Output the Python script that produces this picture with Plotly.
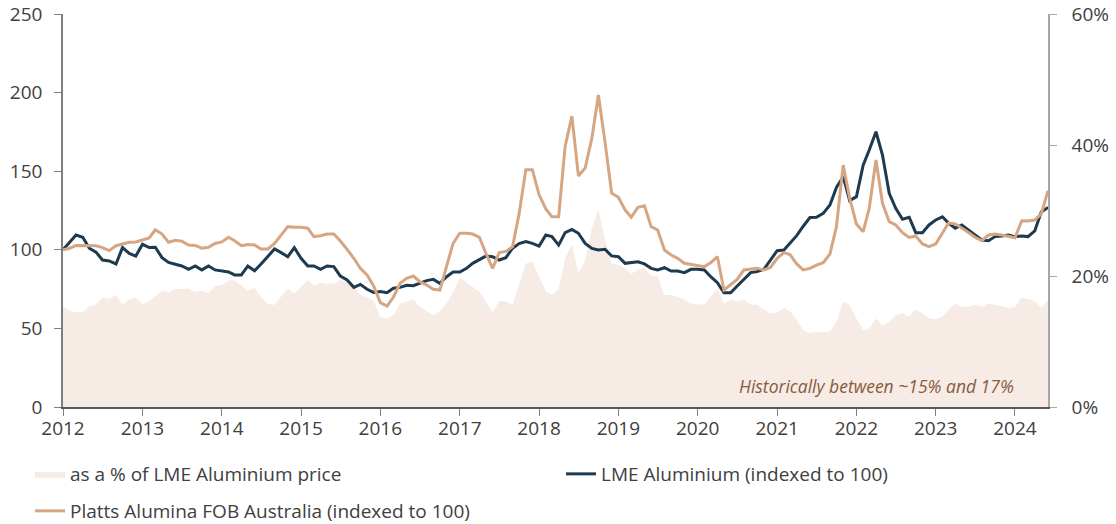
import pandas as pd
import plotly.graph_objects as go

dates = pd.date_range("2012-01-01", periods=150, freq="MS")

lme = [100, 105, 109.4, 108, 101, 98.5, 93.5, 92.9, 91, 101.4,
       97.7, 96, 103.5, 101.4, 101.6, 95, 92, 90.8, 89.7, 87.6,
       89.7, 87.2, 89.7, 87.2, 86.7, 85.9, 84, 84, 89.7, 86.7,
       91, 96, 100.5, 98.2, 95.6, 101.4, 94.6, 89.7, 89.7, 87.6,
       89.7, 89.3, 83.3, 80.8, 76.1, 78, 74.9, 72.9, 73.4, 72.7,
       75.5, 76.1, 77.4, 77.2, 78.7, 80.4, 81.2, 78.7, 82.9, 85.9,
       85.9, 88.2, 91.4, 94, 96, 95.6, 93.5, 95, 101, 104,
       105.2, 104.1, 102.4, 109.4, 108.4, 103, 110.9, 113, 110.5, 104.1,
       100.9, 99.9, 100.3, 96.1, 95.6, 91.4, 92, 92.4, 91, 88.2,
       87.2, 88.6, 86.5, 86.5, 85.5, 87.6, 87.6, 87.2, 82.9, 79.1,
       72.7, 72.7, 77, 81.2, 85.5, 86.1, 87.6, 93.5, 99.4, 99.9,
       104.1, 109, 115, 120.5, 120.7, 123.2, 128.5, 139.7, 146.5, 131.3,
       133.8, 153.9, 163.5, 175.1, 160.3, 135.9, 126.4, 119.4, 120.7, 110.9,
       110.9, 115.8, 119, 121, 117, 113.7, 115.8, 112.6, 109.4, 106.2,
       105.8, 108.4, 108.8, 109.4, 108.4, 108.8, 108.4, 112, 124, 127]

platts = [100, 101, 102.8, 102.6, 102.6, 102.6, 101.4, 99.5, 102.6, 103.9,
          104.8, 105, 106.4, 107.6, 112.7, 110, 104.8, 106, 105.4, 103,
          102.8, 101, 101.6, 104, 105, 108, 105.8, 102.6, 103.4, 103,
          100.5, 100.5, 104, 109, 114.7, 114.3, 114.3, 113.7, 108.4, 109,
          110, 110, 105.6, 100.3, 94.6, 88.2, 84, 77, 66.4, 64.2,
          69.8, 78.7, 81.8, 83.3, 79.7, 77.6, 74.9, 74.4, 90.3, 104.1,
          110.5, 110.5, 110, 107.9, 97.8, 88.2, 98.2, 99, 102, 123,
          151, 151, 135, 126, 121, 121, 166, 185, 147, 152,
          171, 198.5, 168, 136, 133.4, 125.3, 120.7, 127, 128, 114.7,
          112.6, 99.9, 96.7, 94.6, 91.4, 90.8, 90.3, 89.3, 91.8, 95.6,
          74.4, 77.6, 81.2, 87.2, 87.6, 88.2, 87.2, 88.8, 94.6, 98.2,
          97, 91, 87.2, 88.2, 90.3, 91.8, 97.3, 114.7, 153.9, 132.7,
          116.4, 111.5, 126.4, 157.1, 129.6, 117.9, 115.8, 110.9, 107.9, 108.8,
          103.7, 102, 103.7, 111, 117, 116.5, 114, 111, 108, 105.8,
          109.4, 110, 109.4, 108.4, 107.7, 118.5, 118.3, 118.9, 122.8, 137.6]

pct = [15.3, 14.7, 14.45, 14.45, 15.4, 15.7, 16.7, 16.5, 17.1, 15.6,
       16.4, 16.7, 15.7, 16.2, 16.9, 17.7, 17.5, 18, 18, 18.1,
       17.6, 17.7, 17.4, 18.5, 18.6, 19.3, 19.3, 18.6, 17.7, 18.2,
       16.8, 15.7, 15.6, 16.8, 18.1, 17.3, 18.4, 19.4, 18.5, 19,
       18.8, 18.8, 19.4, 19.1, 18.5, 17.1, 16.8, 16.2, 13.7, 13.5,
       14, 15.8, 16.1, 16.4, 15.3, 14.7, 14, 14.6, 15.8, 17.6,
       19.7, 19, 18.3, 17.6, 16.1, 14.4, 16.2, 16.1, 15.6, 18.8,
       21.9, 22.2, 20, 17.6, 17.1, 18, 22.7, 24.9, 20.4, 22.4,
       27.3, 30.2, 25.5, 21.9, 21.7, 21.2, 20.3, 21, 21.3, 20,
       20, 17.1, 17.1, 16.7, 16.4, 15.8, 15.7, 15.6, 16.8, 18.1,
       15.8, 16.4, 16.1, 16.4, 15.6, 15.6, 14.9, 14.3, 14.4, 15.1,
       14.6, 13.3, 11.7, 11.3, 11.5, 11.5, 11.5, 13, 16.1, 15.6,
       13.5, 11.7, 12, 13.5, 12.5, 13, 14, 14.3, 13.8, 14.9,
       14.3, 13.5, 13.4, 13.8, 14.9, 15.8, 15.3, 15.3, 15.6, 15.3,
       15.8, 15.6, 15.3, 15.1, 15.2, 16.7, 16.5, 16.2, 15.1, 16.3]

left_ticks = [0, 50, 100, 150, 200, 250]
right_ticks = [0, 20, 40, 60]
right_labels = ["0%", "20%", "40%", "60%"]

NAVY = "#1E3A4F"
TAN = "#D6A683"
FILL = "#F6EBE5"
FONT = "Open Sans"
TXT = "#404040"

fig = go.Figure()
fig.add_trace(go.Scatter(x=dates, y=pct, name="as a % of LME Aluminium price",
                         mode="lines", line=dict(width=0, color=FILL),
                         fill="tozeroy", fillcolor=FILL, yaxis="y", legend="legend"))
fig.add_trace(go.Scatter(x=dates, y=lme, name="LME Aluminium (indexed to 100)",
                         mode="lines", line=dict(width=3, color=NAVY), yaxis="y2",
                         legend="legend2"))
fig.add_trace(go.Scatter(x=dates, y=platts, name="Platts Alumina FOB Australia (indexed to 100)",
                         mode="lines", line=dict(width=3, color=TAN), yaxis="y2",
                         legend="legend3"))

fig.add_annotation(text="<i>Historically between ~15% and 17%</i>",
                   xref="paper", yref="paper", x=0.9675, y=0.053,
                   xanchor="right", yanchor="middle", showarrow=False,
                   font=dict(family=FONT, size=17.5, color="#8A5A3B"))

leg_common = dict(orientation="h", xanchor="left", yanchor="middle",
                  font=dict(family=FONT, size=19, color=TXT), itemwidth=30,
                  bgcolor="rgba(0,0,0,0)")

fig.update_layout(
    width=1116, height=524,
    margin=dict(l=63, r=68, t=14, b=117, autoexpand=False),
    paper_bgcolor="white", plot_bgcolor="white",
    font=dict(family=FONT, size=19, color=TXT),
    showlegend=True,
    legend=dict(x=-0.0335, y=-0.1705, **leg_common),
    legend2=dict(x=0.5056, y=-0.1705, **leg_common),
    legend3=dict(x=-0.0335, y=-0.2646, **leg_common),
    xaxis=dict(type="date", range=["2012-01-01", "2024-06-01"], dtick="M12",
               tickformat="%Y", tick0="2012-01-01", showgrid=False, zeroline=False,
               showline=True, linecolor="#595959", linewidth=1.5,
               ticks="outside", ticklen=7, tickcolor="#7f7f7f",
               ticklabelstandoff=-4,
               tickfont=dict(size=19, color=TXT), automargin=False),
    yaxis=dict(side="right", range=[0, 60], tickvals=right_ticks, ticktext=right_labels,
               showgrid=False, zeroline=False, showline=True, linecolor="#a6a6a6",
               linewidth=1.5, ticks="outside", ticklen=7, tickcolor="#a6a6a6",
               ticklabelstandoff=11,
               tickfont=dict(size=19, color=TXT), automargin=False),
    yaxis2=dict(side="left", overlaying="y", range=[0, 250], tickvals=left_ticks,
                showgrid=False, zeroline=False, showline=True, linecolor="#7f7f7f",
                linewidth=1.5, ticks="outside", ticklen=7, tickcolor="#7f7f7f",
                ticklabelstandoff=8,
                tickfont=dict(size=19, color=TXT), automargin=False),
)

fig.write_html("out.html", config={"displayModeBar": False},
               post_script="document.body.style.margin='0px';")
